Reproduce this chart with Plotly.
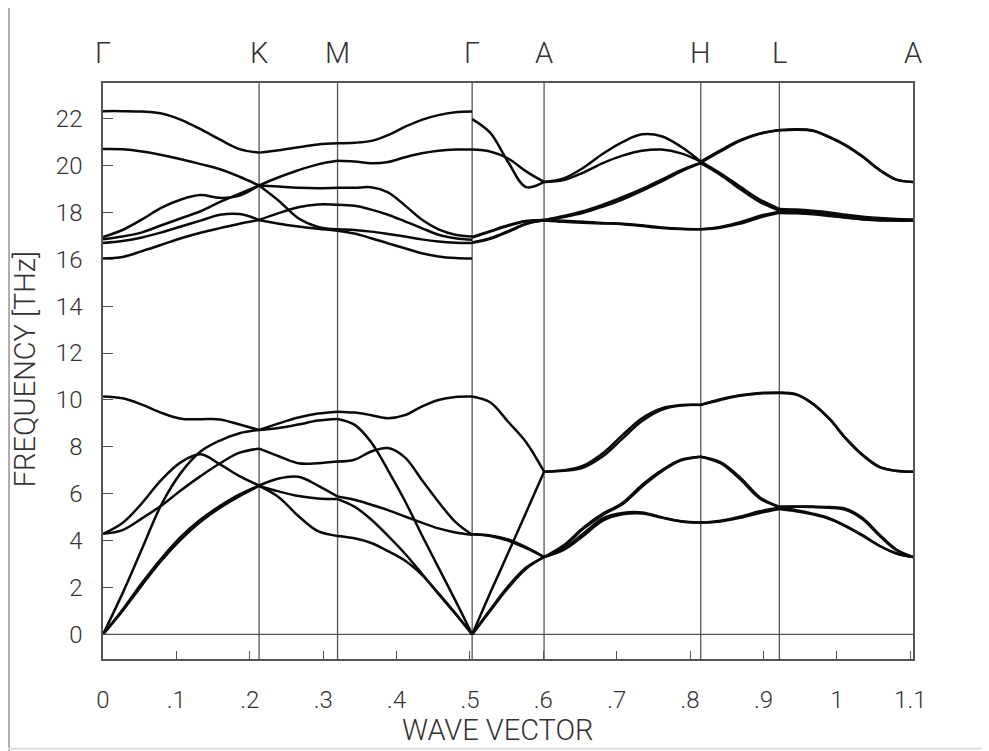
import plotly.graph_objects as go

# ---- high-symmetry path ----
kpath_labels = ["Γ", "K", "M", "Γ", "A", "H", "L", "A"]
kpath_pos = [0.0, 0.2127, 0.3196, 0.503, 0.601, 0.8145, 0.9216, 1.1037]

x_tickvals = [0, 0.1, 0.2, 0.3, 0.4, 0.5, 0.6, 0.7, 0.8, 0.9, 1.0, 1.1]
x_ticktext = ["0", ".1", ".2", ".3", ".4", ".5", ".6", ".7", ".8", ".9", "1", "1.1"]
y_tickvals = [0, 2, 4, 6, 8, 10, 12, 14, 16, 18, 20, 22]

# ---- frequencies (THz), sampled at equal fractions along each path segment ----
seg_G_K = [
    [22.32, 22.32, 22.3, 22.22, 21.95, 21.55, 21.1, 20.7, 20.55],
    [20.7, 20.69, 20.6, 20.45, 20.27, 20.06, 19.84, 19.52, 19.15],
    [16.95, 17.25, 17.7, 18.2, 18.55, 18.74, 18.62, 18.72, 19.15],
    [16.85, 16.97, 17.15, 17.45, 17.75, 18.05, 18.45, 18.8, 19.15],
    [16.7, 16.78, 16.93, 17.15, 17.4, 17.65, 17.9, 17.93, 17.68],
    [16.03, 16.1, 16.35, 16.62, 16.9, 17.13, 17.33, 17.52, 17.68],
    [10.15, 10.07, 9.8, 9.45, 9.2, 9.18, 9.17, 8.95, 8.72],
    [4.29, 4.75, 5.6, 6.6, 7.35, 7.68, 7.25, 6.75, 6.35],
    [4.29, 4.45, 4.95, 5.5, 6.15, 6.75, 7.3, 7.75, 7.92],
    [0.0, 1.75, 3.65, 5.55, 6.9, 7.8, 8.27, 8.58, 8.72],
    [0.0, 1.05, 2.2, 3.25, 4.17, 4.9, 5.48, 5.97, 6.35],
    [0.0, 1.0, 2.1, 3.15, 4.05, 4.8, 5.4, 5.9, 6.33],
]
seg_K_M = [
    [20.55, 20.65, 20.78, 20.9, 20.95],
    [19.15, 19.5, 19.8, 20.05, 20.2],
    [19.15, 19.1, 19.05, 19.03, 19.05],
    [19.15, 18.5, 17.75, 17.38, 17.28],
    [17.68, 17.97, 18.22, 18.34, 18.33],
    [17.68, 17.52, 17.4, 17.3, 17.22],
    [8.72, 9.0, 9.25, 9.42, 9.5],
    [8.72, 8.8, 8.95, 9.12, 9.19],
    [7.92, 7.6, 7.3, 7.3, 7.37],
    [6.35, 6.65, 6.72, 6.35, 5.88],
    [6.33, 6.1, 5.9, 5.8, 5.77],
    [6.33, 5.85, 5.05, 4.4, 4.2],
]
seg_M_G = [
    [20.95, 20.97, 21.05, 21.3, 21.65, 21.95, 22.15, 22.27, 22.3],
    [20.2, 20.17, 20.1, 20.15, 20.35, 20.52, 20.63, 20.68, 20.68],
    [19.05, 19.05, 19.07, 18.85, 18.3, 17.7, 17.28, 17.05, 16.97],
    [18.33, 18.28, 18.12, 17.9, 17.62, 17.33, 17.05, 16.9, 16.83],
    [17.28, 17.25, 17.18, 17.08, 16.97, 16.85, 16.76, 16.71, 16.7],
    [17.22, 17.1, 16.9, 16.68, 16.47, 16.26, 16.12, 16.05, 16.03],
    [9.5, 9.46, 9.35, 9.22, 9.35, 9.72, 10.0, 10.13, 10.15],
    [9.19, 8.95, 8.2, 7.0, 5.7, 4.25, 2.85, 1.45, 0.0],
    [7.37, 7.45, 7.8, 7.95, 7.55, 6.6, 5.65, 4.8, 4.25],
    [5.88, 5.74, 5.53, 5.3, 5.03, 4.77, 4.52, 4.35, 4.25],
    [5.77, 5.45, 4.9, 4.2, 3.45, 2.6, 1.72, 0.88, 0.0],
    [4.2, 4.1, 3.9, 3.55, 3.15, 2.55, 1.75, 0.9, 0.0],
]
seg_G_A = [
    [21.98, 21.4, 20.15, 19.08, 19.3],
    [20.68, 20.6, 20.3, 19.75, 19.3],
    [16.95, 17.2, 17.45, 17.63, 17.68],
    [16.93, 17.18, 17.43, 17.62, 17.68],
    [16.72, 16.9, 17.2, 17.52, 17.66],
    [16.7, 16.87, 17.17, 17.5, 17.66],
    [10.15, 9.9, 9.07, 8.2, 6.94],
    [4.27, 4.22, 4.05, 3.72, 3.3],
    [4.27, 4.2, 4.0, 3.68, 3.3],
    [0.0, 1.76, 3.47, 5.2, 6.94],
    [0.0, 1.05, 2.05, 2.85, 3.3],
    [0.0, 1.0, 1.98, 2.8, 3.3],
]
seg_A_H = [
    [19.3, 19.45, 19.9, 20.5, 21.0, 21.33, 21.25, 20.8, 20.17],
    [19.3, 19.38, 19.7, 20.1, 20.42, 20.63, 20.68, 20.52, 20.17],
    [17.68, 17.85, 18.05, 18.33, 18.65, 19.0, 19.4, 19.8, 20.12],
    [17.66, 17.8, 17.98, 18.25, 18.55, 18.92, 19.32, 19.75, 20.1],
    [17.68, 17.64, 17.6, 17.55, 17.52, 17.45, 17.36, 17.3, 17.28],
    [17.66, 17.6, 17.56, 17.53, 17.5, 17.42, 17.34, 17.29, 17.28],
    [6.94, 7.0, 7.2, 7.73, 8.5, 9.22, 9.64, 9.78, 9.79],
    [6.94, 6.98, 7.12, 7.6, 8.35, 9.1, 9.58, 9.76, 9.79],
    [3.3, 3.65, 4.3, 4.95, 5.18, 5.2, 5.0, 4.83, 4.77],
    [3.3, 3.6, 4.2, 4.85, 5.12, 5.16, 4.98, 4.82, 4.77],
    [3.3, 3.8, 4.55, 5.15, 5.6, 6.37, 7.0, 7.45, 7.58],
    [3.3, 3.75, 4.5, 5.1, 5.55, 6.3, 6.95, 7.42, 7.58],
]
seg_H_L = [
    [20.17, 20.65, 21.08, 21.37, 21.52],
    [20.12, 20.6, 21.05, 21.35, 21.5],
    [20.17, 19.67, 19.1, 18.55, 18.15],
    [20.1, 19.6, 19.0, 18.45, 18.08],
    [17.28, 17.38, 17.58, 17.85, 18.03],
    [17.28, 17.35, 17.52, 17.78, 17.98],
    [9.79, 10.03, 10.2, 10.3, 10.32],
    [9.79, 10.0, 10.18, 10.28, 10.3],
    [7.58, 7.35, 6.7, 5.85, 5.42],
    [7.58, 7.3, 6.62, 5.8, 5.45],
    [4.77, 4.82, 4.97, 5.18, 5.35],
    [4.77, 4.85, 5.02, 5.25, 5.4],
]
seg_L_A = [
    [21.52, 21.55, 21.5, 21.22, 20.86, 20.38, 19.82, 19.4, 19.3],
    [21.5, 21.53, 21.48, 21.2, 20.84, 20.36, 19.8, 19.4, 19.3],
    [18.15, 18.12, 18.07, 18.0, 17.9, 17.82, 17.76, 17.72, 17.7],
    [18.08, 18.05, 18.01, 17.94, 17.85, 17.78, 17.72, 17.68, 17.67],
    [18.03, 18.0, 17.96, 17.88, 17.79, 17.72, 17.68, 17.66, 17.65],
    [17.98, 17.96, 17.92, 17.85, 17.77, 17.7, 17.66, 17.65, 17.65],
    [10.32, 10.25, 9.85, 9.2, 8.35, 7.65, 7.15, 6.98, 6.94],
    [10.3, 10.23, 9.83, 9.18, 8.33, 7.63, 7.13, 6.97, 6.94],
    [5.45, 5.46, 5.45, 5.43, 5.35, 4.95, 4.25, 3.62, 3.3],
    [5.42, 5.44, 5.43, 5.4, 5.3, 4.9, 4.2, 3.6, 3.3],
    [5.35, 5.25, 5.12, 4.92, 4.6, 4.2, 3.77, 3.45, 3.3],
    [5.4, 5.3, 5.15, 4.95, 4.62, 4.22, 3.78, 3.46, 3.3],
]

segments = [seg_G_K, seg_K_M, seg_M_G, seg_G_A, seg_A_H, seg_H_L, seg_L_A]

FONT = "Roboto, Liberation Sans Narrow, sans-serif"
TXT = "#333333"
AX = "#555555"

fig = go.Figure()

for i, seg in enumerate(segments):
    x0, x1 = kpath_pos[i], kpath_pos[i + 1]
    for band in seg:
        n = len(band)
        xs = [x0 + (x1 - x0) * j / (n - 1) for j in range(n)]
        fig.add_trace(go.Scatter(
            x=xs, y=band, mode="lines",
            line=dict(color="#0a0a0a", width=2.5, shape="spline", smoothing=1.0),
            hoverinfo="skip", showlegend=False,
        ))

YMIN, YMAX = -1.05, 23.52
XMAX = kpath_pos[-1]

shapes = []
for xp in kpath_pos[1:-1]:
    shapes.append(dict(type="line", xref="x", yref="y", x0=xp, x1=xp, y0=YMIN, y1=YMAX,
                       line=dict(color=AX, width=1.3), layer="below"))
shapes.append(dict(type="line", xref="x", yref="y", x0=0, x1=XMAX, y0=0, y1=0,
                   line=dict(color=AX, width=1.3), layer="below"))
# page border lines (left and bottom) seen in the original image
shapes.append(dict(type="line", xref="paper", yref="paper", x0=-0.116, x1=-0.116, y0=-0.16, y1=1.13,
                   line=dict(color="#777777", width=1.2)))
shapes.append(dict(type="line", xref="paper", yref="paper", x0=-0.13, x1=1.1, y0=-0.156, y1=-0.156,
                   line=dict(color="#dddddd", width=2)))

annotations = []
for lab, xp in zip(kpath_labels, kpath_pos):
    annotations.append(dict(x=xp, y=1, xref="x", yref="paper", text=lab, showarrow=False,
                            yanchor="middle", yshift=30,
                            font=dict(family=FONT, size=29, color=TXT, weight=300)))
annotations.append(dict(x=0.488, y=-0.123, xref="paper", yref="paper", text="WAVE VECTOR",
                        showarrow=False, yanchor="middle", xanchor="center",
                        font=dict(family=FONT, size=29, color=TXT, weight=300)))
annotations.append(dict(x=-0.0963, y=0.503, xref="paper", yref="paper", text="FREQUENCY [THz]",
                        showarrow=False, textangle=-90, xanchor="center", yanchor="middle",
                        font=dict(family=FONT, size=29, color=TXT, weight=300)))

fig.update_layout(
    width=981, height=743,
    margin=dict(l=95, r=76, t=75, b=92, pad=0),
    paper_bgcolor="white", plot_bgcolor="white",
    shapes=shapes, annotations=annotations,
    xaxis=dict(range=[0, XMAX], tickvals=x_tickvals, ticktext=x_ticktext,
               ticks="inside", ticklen=8, tickwidth=1.2, tickcolor=AX,
               showline=True, linecolor=AX, linewidth=1.5, mirror=True,
               showgrid=False, zeroline=False, ticklabelstandoff=18,
               tickfont=dict(family=FONT, size=24, color=TXT, weight=300)),
    yaxis=dict(range=[YMIN, YMAX], tickvals=y_tickvals,
               ticks="inside", ticklen=10, tickwidth=1.2, tickcolor=AX,
               showline=True, linecolor=AX, linewidth=1.5, mirror=True,
               showgrid=False, zeroline=False, ticklabelstandoff=14,
               tickfont=dict(family=FONT, size=24, color=TXT, weight=300)),
)

fig.write_html("out.html")
